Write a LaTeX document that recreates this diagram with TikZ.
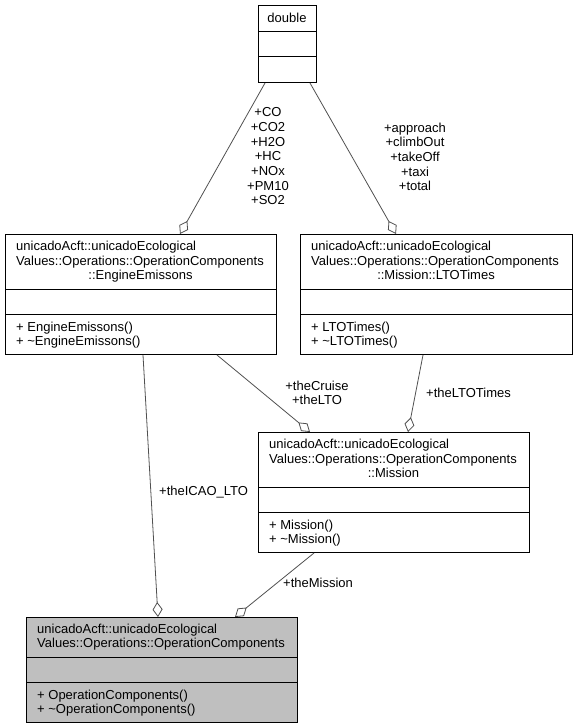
\documentclass[tikz,border=0pt]{standalone}
\usepackage{fontspec}
\setmainfont{Liberation Sans}
\usetikzlibrary{arrows.meta,calc}
\definecolor{opgray}{RGB}{191,191,191}
\definecolor{linkgray}{RGB}{80,80,80}
\begin{document}
\begin{tikzpicture}[x=1pt,y=-1pt,
  every node/.style={font=\fontsize{13}{14.7}\selectfont, inner sep=0pt},
  classbox/.style={draw=black, line width=1pt, rectangle, anchor=north west},
  divline/.style={draw=black, line width=1pt},
  assoc/.style={draw=linkgray, line width=0.8pt, -{Diamond[fill=white, length=15pt, width=10pt, line width=0.8pt]}},
  lbl/.style={anchor=base west},
  lblc/.style={anchor=base},
  mlbl/.style={anchor=north, align=center},
]
\useasboundingbox (0,0) rectangle (576,728);

% ---- double
\node[classbox, minimum width=58pt, minimum height=77pt] (dbl) at (258,5) {};
\draw[divline] ($(dbl.north west)+(0,26)$) -- ($(dbl.north east)+(0,26)$);
\draw[divline] ($(dbl.north west)+(0,51)$) -- ($(dbl.north east)+(0,51)$);
\node[lblc] (dblt) at (287,22.5) {double};

% ---- EngineEmissons
\node[classbox, minimum width=271pt, minimum height=120pt] (eng) at (5,234) {};
\draw[divline] ($(eng.north west)+(0,55)$) -- ($(eng.north east)+(0,55)$);
\draw[divline] ($(eng.north west)+(0,80)$) -- ($(eng.north east)+(0,80)$);
\node[lbl] (engt1) at (16,250.5) {unicadoAcft::unicadoEcological};
\node[lbl] (engt2) at (16,265.5) {Values::Operations::OperationComponents};
\node[lblc] (engt3) at (140.5,279.5) {::EngineEmissons};
\node[lbl] (engm1) at (16,331.5) {+ EngineEmissons()};
\node[lbl] (engm2) at (16,345.5) {+ \textasciitilde EngineEmissons()};

% ---- LTOTimes
\node[classbox, minimum width=272pt, minimum height=120pt] (lto) at (300,234) {};
\draw[divline] ($(lto.north west)+(0,55)$) -- ($(lto.north east)+(0,55)$);
\draw[divline] ($(lto.north west)+(0,80)$) -- ($(lto.north east)+(0,80)$);
\node[lbl] (ltot1) at (311,250.5) {unicadoAcft::unicadoEcological};
\node[lbl] (ltot2) at (311,265.5) {Values::Operations::OperationComponents};
\node[lblc] (ltot3) at (436,279.5) {::Mission::LTOTimes};
\node[lbl] (ltom1) at (311,331.5) {+ LTOTimes()};
\node[lbl] (ltom2) at (311,345.5) {+ \textasciitilde LTOTimes()};

% ---- Mission
\node[classbox, minimum width=271pt, minimum height=120pt] (mis) at (258,432) {};
\draw[divline] ($(mis.north west)+(0,55)$) -- ($(mis.north east)+(0,55)$);
\draw[divline] ($(mis.north west)+(0,80)$) -- ($(mis.north east)+(0,80)$);
\node[lbl] (mist1) at (269,448.5) {unicadoAcft::unicadoEcological};
\node[lbl] (mist2) at (269,463.5) {Values::Operations::OperationComponents};
\node[lblc] (mist3) at (393.5,477.5) {::Mission};
\node[lbl] (mism1) at (269,529.5) {+ Mission()};
\node[lbl] (mism2) at (269,543.5) {+ \textasciitilde Mission()};

% ---- OperationComponents
\node[classbox, fill=opgray, minimum width=271pt, minimum height=105pt] (op) at (26,617) {};
\draw[divline] ($(op.north west)+(0,40)$) -- ($(op.north east)+(0,40)$);
\draw[divline] ($(op.north west)+(0,65)$) -- ($(op.north east)+(0,65)$);
\node[lbl] (opt1) at (37,633.5) {unicadoAcft::unicadoEcological};
\node[lbl] (opt2) at (37,647.5) {Values::Operations::OperationComponents};
\node[lbl] (opm1) at (37,699.5) {+ OperationComponents()};
\node[lbl] (opm2) at (37,713.5) {+ \textasciitilde OperationComponents()};

% ---- connectors
\draw[assoc] ($(dbl.south west)+(7,0)$) -- ($(eng.north west)+(175,0)$);
\draw[assoc] ($(dbl.south west)+(52,0)$) -- ($(lto.north west)+(96,0)$);
\draw[assoc] ($(eng.south west)+(212,0)$) -- ($(mis.north west)+(52,0)$);
\draw[assoc] ($(lto.south west)+(123,0)$) -- ($(mis.north west)+(150,0)$);
\draw[assoc] ($(eng.south west)+(138,0)$) -- ($(op.north west)+(132,0)$);
\draw[assoc] ($(mis.south west)+(56,0)$) -- ($(op.north west)+(209,0)$);

% ---- connector labels
\node[mlbl] (l1) at (268,107.5) {+CO\\+CO2\\+H2O\\+HC\\+NOx\\+PM10\\+SO2};
\node[mlbl] (l2) at (415,122.5) {+approach\\+climbOut\\+takeOff\\+taxi\\+total};
\node[mlbl] (l3) at (317,380.5) {+theCruise\\+theLTO};
\node[lbl] (l4) at (426,397.5) {+theLTOTimes};
\node[lbl] (l5) at (159,495.5) {+theICAO\_LTO};
\node[lbl] (l6) at (283,587.5) {+theMission};
\end{tikzpicture}
\end{document}
